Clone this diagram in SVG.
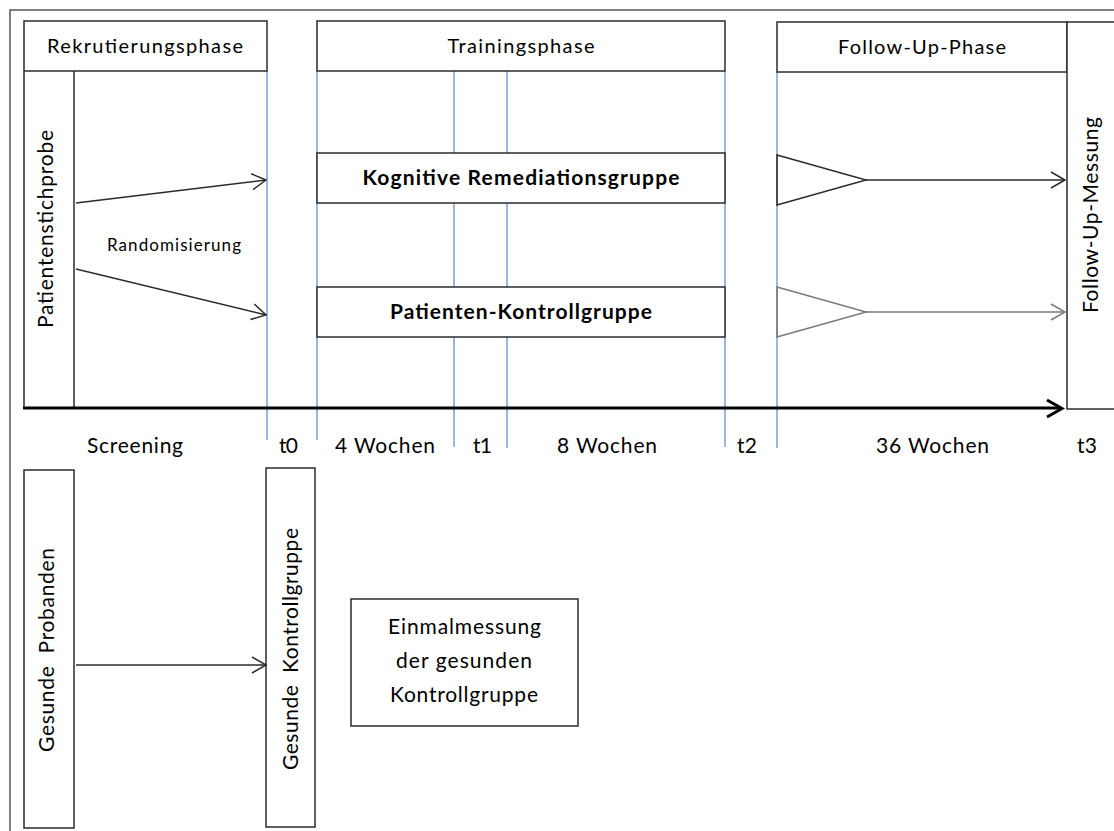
<svg xmlns="http://www.w3.org/2000/svg" width="1114" height="831" viewBox="0 0 1114 831">
<style>
text{font-family:Lato,"Liberation Sans",Arial,sans-serif;fill:#000;}
.h{font-size:20px;text-anchor:middle;}
.b{font-size:21px;font-weight:bold;text-anchor:middle;}
.l{font-size:21px;text-anchor:middle;}
.s{font-size:17px;text-anchor:middle;}
.box{fill:#fff;stroke:#2b2b2b;stroke-width:1.5;}
.ln{fill:none;stroke:#2b2b2b;stroke-width:1.5;}
.blue{stroke:#5a86c4;stroke-width:1.2;fill:none;}
.gray{fill:none;stroke:#7a7a7a;stroke-width:1.5;}
</style>
<defs>
<marker id="ah" markerUnits="userSpaceOnUse" markerWidth="20" markerHeight="20" viewBox="-16 -10 20 20" refX="0" refY="0" orient="auto">
<path d="M-14,-8 L0,0 L-14,8" fill="none" stroke="#2b2b2b" stroke-width="1.5"/>
</marker>
<marker id="ahg" markerUnits="userSpaceOnUse" markerWidth="20" markerHeight="20" viewBox="-16 -10 20 20" refX="0" refY="0" orient="auto">
<path d="M-14,-8 L0,0 L-14,8" fill="none" stroke="#7a7a7a" stroke-width="1.5"/>
</marker>
</defs>
<rect width="1114" height="831" fill="#fff"/>
<!-- outer frame -->
<path d="M1114,10 H10 V831" fill="none" stroke="#555" stroke-width="1.5"/>

<!-- timeline blue lines -->
<g id="timelines">
<line class="blue" x1="267" y1="71" x2="267" y2="440"/>
<line class="blue" x1="317" y1="71" x2="317" y2="440"/>
<line class="blue" x1="454" y1="71" x2="454" y2="447"/>
<line class="blue" x1="507" y1="71" x2="507" y2="448"/>
<line class="blue" x1="725" y1="71" x2="725" y2="447"/>
<line class="blue" x1="777" y1="72" x2="777" y2="448"/>
</g>

<g id="rekrutierungsphase">
<rect class="box" x="24" y="21" width="243" height="50"/>
<text class="h" x="145" y="53" textLength="196">Rekrutierungsphase</text>
</g>
<g id="patientenstichprobe">
<path class="ln" d="M24,71 V408 M74,71 V408"/>
<text class="l" transform="rotate(-90 53 229)" x="53" y="229" textLength="198">Patientenstichprobe</text>
</g>
<g id="trainingsphase">
<rect class="box" x="317" y="21" width="408" height="50"/>
<text class="h" x="521" y="53" textLength="147">Trainingsphase</text>
</g>
<g id="followupphase">
<rect class="box" x="777" y="22" width="290" height="50"/>
<text class="h" x="922" y="54" textLength="168">Follow-Up-Phase</text>
</g>
<g id="followupmessung">
<rect class="box" x="1067" y="22" width="60" height="387"/>
<text class="l" transform="rotate(-90 1098 215)" x="1098" y="215" textLength="196">Follow-Up-Messung</text>
</g>
<g id="kognitive">
<rect class="box" x="317" y="153" width="408" height="50"/>
<text class="b" x="521" y="185" textLength="317">Kognitive Remediationsgruppe</text>
</g>
<g id="patientenkontroll">
<rect class="box" x="317" y="287" width="408" height="50"/>
<text class="b" x="521" y="319" textLength="262">Patienten-Kontrollgruppe</text>
</g>
<g id="triangle1">
<path class="ln" d="M777,155 L866,180 L777,205 Z"/>
</g>
<g id="triangle2">
<path class="gray" d="M777,287 L866,312 L777,337 Z"/>
</g>
<g id="gesundeprobanden">
<rect class="box" x="24" y="470" width="50" height="358"/>
<text class="l" xml:space="preserve" transform="rotate(-90 54 650)" x="54" y="650" textLength="204">Gesunde  Probanden</text>
</g>
<g id="gesundekontroll">
<rect class="box" x="266" y="468" width="49" height="359"/>
<text class="l" xml:space="preserve" transform="rotate(-90 298 649)" x="298" y="649" textLength="242">Gesunde  Kontrollgruppe</text>
</g>
<g id="einmalmessung">
<rect class="box" x="351" y="599" width="227" height="127"/>
<text class="l" x="464.5" y="634" textLength="153">Einmalmessung</text>
<text class="l" x="464" y="668" textLength="136">der gesunden</text>
<text class="l" x="464" y="702" textLength="148">Kontrollgruppe</text>
</g>

<g id="labels">
<text class="s" x="174" y="251" textLength="134">Randomisierung</text>
<text class="l" x="135" y="453" textLength="96">Screening</text>
<text class="l" x="288.5" y="453" textLength="19">t0</text>
<text class="l" x="385" y="453" textLength="100">4 Wochen</text>
<text class="l" x="482.5" y="453" textLength="19">t1</text>
<text class="l" x="607" y="453" textLength="100">8 Wochen</text>
<text class="l" x="747" y="453" textLength="20">t2</text>
<text class="l" x="932.5" y="453" textLength="113">36 Wochen</text>
<text class="l" x="1087" y="453" textLength="20">t3</text>
</g>

<g id="connectors">
<line class="ln" x1="76" y1="203" x2="266" y2="180" marker-end="url(#ah)"/>
<line class="ln" x1="76" y1="269" x2="266" y2="315" marker-end="url(#ah)"/>
<line class="ln" x1="866" y1="180" x2="1065" y2="180" marker-end="url(#ah)"/>
<line class="gray" x1="866" y1="312" x2="1065" y2="312" marker-end="url(#ahg)"/>
<line class="ln" x1="76" y1="665" x2="266" y2="665" marker-end="url(#ah)"/>
<line x1="23" y1="408" x2="1061" y2="408" stroke="#000" stroke-width="3"/>
<path d="M1047,400 L1062,408.5 L1047,417" fill="none" stroke="#000" stroke-width="3" stroke-linejoin="miter"/>
</g>
</svg>
